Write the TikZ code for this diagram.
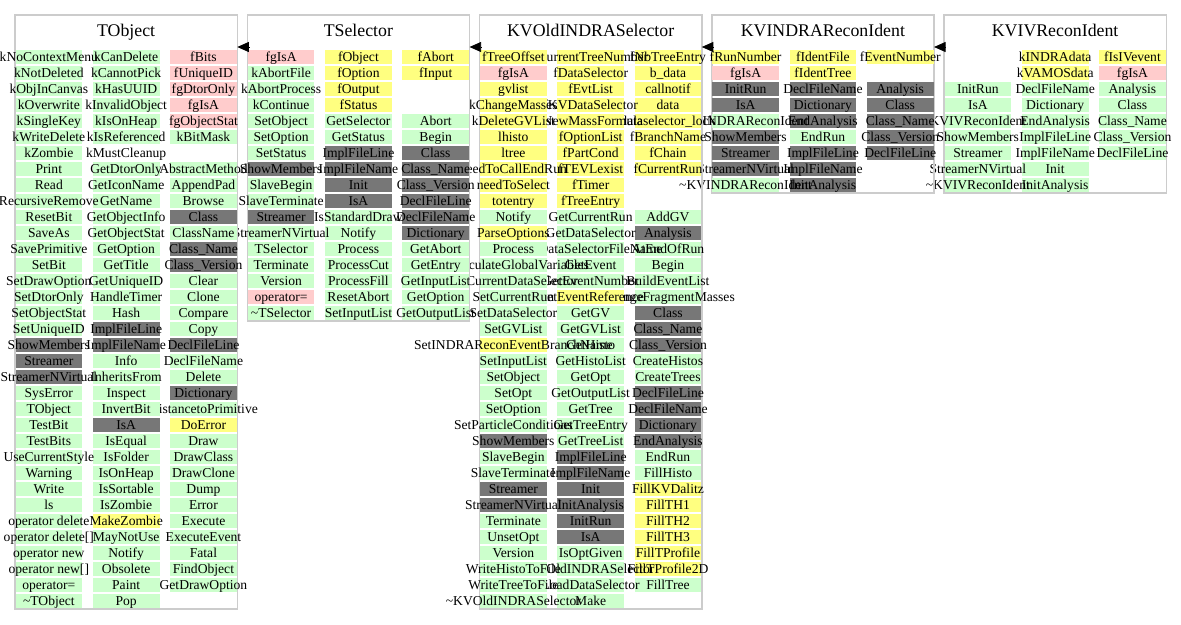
\documentclass[tikz,border=0pt]{standalone}
\usepackage{fontspec}
\setmainfont{Liberation Serif}
\usetikzlibrary{arrows.meta}

\definecolor{cellgreen}{HTML}{CCFFCC}
\definecolor{cellpink}{HTML}{FFCCCC}
\definecolor{cellyellow}{HTML}{FFFF80}
\definecolor{celldark}{HTML}{777777}
\definecolor{boxgray}{HTML}{CCCCCC}

\tikzset{
  cellbox/.style={inner sep=0pt, outer sep=0pt, minimum width=66.7pt,
    minimum height=14.3pt, text height=10.4pt, text depth=1.7pt,
    font=\fontsize{13.6pt}{16pt}\selectfont},
  cg/.style={fill=cellgreen},
  cp/.style={fill=cellpink},
  cy/.style={fill=cellyellow},
  cd/.style={fill=celldark},
  ce/.style={},
  classbox/.style={draw=boxgray, line width=1.5pt, inner sep=0pt, outer sep=0pt,
    minimum width=222.3pt, anchor=north west},
  classtitle/.style={anchor=base, inner sep=0pt, font=\fontsize{17.8pt}{20pt}\selectfont},
  inherit/.style={draw=black, line width=0.8pt, -{Triangle[length=11.5pt,width=10pt]}},
}

% one column of member cells: #1 class, #2 column tag, #3 centre x, #4 style/text list
\newcommand\membercol[4]{%
  \foreach \st/\tx [count=\r from 0] in {#4} {
    \node[cellbox,\st] (#1-#2-\r) at (#3, 57.15+16*\r) {\makebox[0pt]{\tx}};
  }}

% class frame and title: #1 name, #2 left x, #3 number of rows, #4 title
\newcommand\classframe[4]{%
  \node[classbox, minimum height={49.8+16*(#3-1)}] (#1) at (#2-0.5, 15) {};
  \node[classtitle] (#1-title) at (#2+110.65, 36.5) {#4};
}

\begin{document}
\begin{tikzpicture}[x=1pt, y=-1pt]
\fill[white] (0,0) rectangle (1181,624);
\useasboundingbox (0,0) rectangle (1181,624);

% ---------------- KVIVReconIdent ----------------
\classframe{KVIV}{944.5}{9}{KVIVReconIdent}
\membercol{KVIV}{c3}{1132.45}{cy/fIsIVevent, cp/fgIsA, cg/Analysis, cg/Class, cg/Class\_Name,
  cg/Class\_Version, cg/DeclFileLine, ce/{}, ce/{}}
\membercol{KVIV}{c2}{1055.15}{cy/kINDRAdata, cy/kVAMOSdata, cg/DeclFileName, cg/Dictionary,
  cg/EndAnalysis, cg/ImplFileLine, cg/ImplFileName, cg/Init, cg/InitAnalysis}
\membercol{KVIV}{c1}{977.85}{ce/{}, ce/{}, cg/InitRun, cg/IsA, cg/KVIVReconIdent, cg/ShowMembers,
  cg/Streamer, cg/StreamerNVirtual, cg/\textasciitilde KVIVReconIdent}

% ---------------- KVINDRAReconIdent ----------------
\classframe{KVINDRA}{712.25}{9}{KVINDRAReconIdent}
\membercol{KVINDRA}{c3}{900.2}{cy/fEventNumber, ce/{}, cd/Analysis, cd/Class, cd/Class\_Name,
  cd/Class\_Version, cd/DeclFileLine, ce/{}, ce/{}}
\membercol{KVINDRA}{c2}{822.9}{cy/fIdentFile, cy/fIdentTree, cd/DeclFileName, cd/Dictionary,
  cd/EndAnalysis, cg/EndRun, cd/ImplFileLine, cd/ImplFileName, cd/InitAnalysis}
\membercol{KVINDRA}{c1}{745.6}{cy/fRunNumber, cp/fgIsA, cd/InitRun, cd/IsA, cg/KVINDRAReconIdent,
  cd/ShowMembers, cd/Streamer, cd/StreamerNVirtual, cg/\textasciitilde KVINDRAReconIdent}

% ---------------- KVOldINDRASelector ----------------
\classframe{KVOld}{480}{35}{KVOldINDRASelector}
\membercol{KVOld}{c3}{667.95}{cy/fNbTreeEntry, cy/b\_data, cy/callnotif, cy/data,
  cy/dataselector\_lock, cy/fBranchName, cy/fChain, cy/fCurrentRun, ce/{}, ce/{},
  cg/AddGV, cd/Analysis, cg/AtEndOfRun, cg/Begin, cg/BuildEventList, cg/ChangeFragmentMasses,
  cd/Class, cd/Class\_Name, cd/Class\_Version, cg/CreateHistos, cg/CreateTrees,
  cd/DeclFileLine, cd/DeclFileName, cd/Dictionary, cd/EndAnalysis, cg/EndRun, cg/FillHisto,
  cy/FillKVDalitz, cy/FillTH1, cy/FillTH2, cy/FillTH3, cy/FillTProfile, cy/FillTProfile2D,
  cg/FillTree, ce/{}}
\membercol{KVOld}{c2}{590.65}{cy/fCurrentTreeNumber, cy/fDataSelector, cy/fEvtList,
  cy/fKVDataSelector, cy/fNewMassFormula, cy/fOptionList, cy/fPartCond, cy/fTEVLexist,
  cy/fTimer, cy/fTreeEntry, cg/GetCurrentRun, cg/GetDataSelector, cg/GetDataSelectorFileName,
  cg/GetEvent, cg/GetEventNumber, cy/GetEventReference, cg/GetGV, cg/GetGVList, cg/GetHisto,
  cg/GetHistoList, cg/GetOpt, cg/GetOutputList, cg/GetTree, cg/GetTreeEntry, cg/GetTreeList,
  cd/ImplFileLine, cd/ImplFileName, cd/Init, cd/InitAnalysis, cd/InitRun, cd/IsA,
  cg/IsOptGiven, cg/KVOldINDRASelector, cg/LoadDataSelector, cg/Make}
\membercol{KVOld}{c1}{513.35}{cy/fTreeOffset, cp/fgIsA, cy/gvlist, cy/kChangeMasses,
  cy/kDeleteGVList, cy/lhisto, cy/ltree, cy/needToCallEndRun, cy/needToSelect, cy/totentry,
  cg/Notify, cy/ParseOptions, cg/Process, cg/RecalculateGlobalVariables,
  cg/SetCurrentDataSelector, cg/SetCurrentRun, cg/SetDataSelector, cg/SetGVList,
  cy/SetINDRAReconEventBranchName, cg/SetInputList, cg/SetObject, cg/SetOpt, cg/SetOption,
  cg/SetParticleConditions, cd/ShowMembers, cg/SlaveBegin, cg/SlaveTerminate, cd/Streamer,
  cd/StreamerNVirtual, cg/Terminate, cg/UnsetOpt, cg/Version, cg/WriteHistoToFile,
  cg/WriteTreeToFile, cg/\textasciitilde KVOldINDRASelector}

% ---------------- TSelector ----------------
\classframe{TSelector}{247.75}{17}{TSelector}
\membercol{TSelector}{c3}{435.7}{cy/fAbort, cy/fInput, ce/{}, ce/{}, cg/Abort, cg/Begin,
  cd/Class, cd/Class\_Name, cd/Class\_Version, cd/DeclFileLine, cd/DeclFileName,
  cd/Dictionary, cg/GetAbort, cg/GetEntry, cg/GetInputList, cg/GetOption, cg/GetOutputList}
\membercol{TSelector}{c2}{358.4}{cy/fObject, cy/fOption, cy/fOutput, cy/fStatus,
  cg/GetSelector, cg/GetStatus, cd/ImplFileLine, cd/ImplFileName, cd/Init, cd/IsA,
  cg/IsStandardDraw, cg/Notify, cg/Process, cg/ProcessCut, cg/ProcessFill, cg/ResetAbort,
  cg/SetInputList}
\membercol{TSelector}{c1}{281.1}{cp/fgIsA, cg/kAbortFile, cg/kAbortProcess, cg/kContinue,
  cg/SetObject, cg/SetOption, cg/SetStatus, cd/ShowMembers, cg/SlaveBegin, cg/SlaveTerminate,
  cd/Streamer, cg/StreamerNVirtual, cg/TSelector, cg/Terminate, cg/Version, cp/operator=,
  cg/\textasciitilde TSelector}

% ---------------- TObject ----------------
\classframe{TObject}{15.5}{35}{TObject}
\membercol{TObject}{c3}{203.45}{cp/fBits, cp/fUniqueID, cp/fgDtorOnly, cp/fgIsA,
  cp/fgObjectStat, cg/kBitMask, ce/{}, cg/AbstractMethod, cg/AppendPad, cg/Browse, cd/Class,
  cg/ClassName, cd/Class\_Name, cd/Class\_Version, cg/Clear, cg/Clone, cg/Compare, cg/Copy,
  cd/DeclFileLine, cg/DeclFileName, cg/Delete, cd/Dictionary, cg/DistancetoPrimitive,
  cy/DoError, cg/Draw, cg/DrawClass, cg/DrawClone, cg/Dump, cg/Error, cg/Execute,
  cg/ExecuteEvent, cg/Fatal, cg/FindObject, cg/GetDrawOption, ce/{}}
\membercol{TObject}{c2}{126.15}{cg/kCanDelete, cg/kCannotPick, cg/kHasUUID, cg/kInvalidObject,
  cg/kIsOnHeap, cg/kIsReferenced, ce/kMustCleanup, cg/GetDtorOnly, cg/GetIconName, cg/GetName,
  cg/GetObjectInfo, cg/GetObjectStat, cg/GetOption, cg/GetTitle, cg/GetUniqueID,
  cg/HandleTimer, cg/Hash, cd/ImplFileLine, cd/ImplFileName, cg/Info, cg/InheritsFrom,
  cg/Inspect, cg/InvertBit, cd/IsA, cg/IsEqual, cg/IsFolder, cg/IsOnHeap, cg/IsSortable,
  cg/IsZombie, cy/MakeZombie, cg/MayNotUse, cg/Notify, cg/Obsolete, cg/Paint, cg/Pop}
\membercol{TObject}{c1}{48.85}{cg/kNoContextMenu, cg/kNotDeleted, cg/kObjInCanvas,
  cg/kOverwrite, cg/kSingleKey, cg/kWriteDelete, cg/kZombie, cg/Print, cg/Read,
  cg/RecursiveRemove, cg/ResetBit, cg/SaveAs, cg/SavePrimitive, cg/SetBit, cg/SetDrawOption,
  cg/SetDtorOnly, cg/SetObjectStat, cg/SetUniqueID, cd/ShowMembers, cd/Streamer,
  cd/StreamerNVirtual, cg/SysError, cg/TObject, cg/TestBit, cg/TestBits, cg/UseCurrentStyle,
  cg/Warning, cg/Write, cg/ls, cg/operator delete, cg/operator delete[], cg/operator new,
  cg/operator new[], cg/operator=, cg/\textasciitilde TObject}

% ---------------- inheritance arrows ----------------
\draw[inherit] ([xshift=1.5pt,yshift=-32pt]TSelector.north west) -- ([yshift=-32pt]TObject.north east);
\draw[inherit] ([xshift=1.5pt,yshift=-32pt]KVOld.north west) -- ([yshift=-32pt]TSelector.north east);
\draw[inherit] ([xshift=1.5pt,yshift=-32pt]KVINDRA.north west) -- ([yshift=-32pt]KVOld.north east);
\draw[inherit] ([xshift=1.5pt,yshift=-32pt]KVIV.north west) -- ([yshift=-32pt]KVINDRA.north east);
\end{tikzpicture}
\end{document}
